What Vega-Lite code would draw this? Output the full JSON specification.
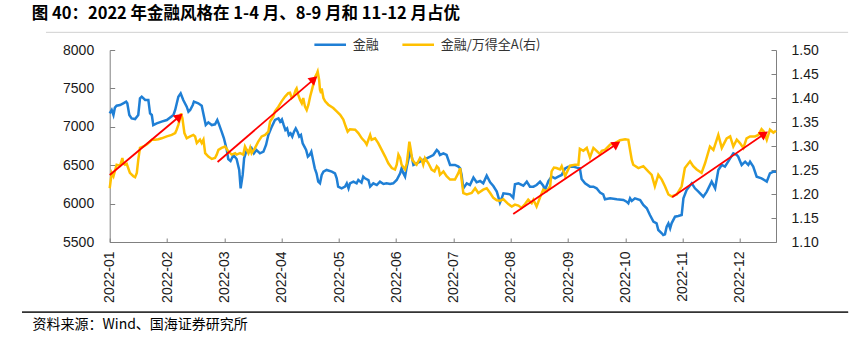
{
  "$schema": "https://vega.github.io/schema/vega-lite/v6.json",
  "autosize": "none",
  "width": 666.3,
  "height": 192,
  "padding": {"left": 109.7, "top": 50, "right": 87, "bottom": 95},
  "background": "white",
  "title": {"text": "图 40：2022 年金融风格在 1-4 月、8-9 月和 11-12 月占优", "anchor": "start", "frame": "group", "dx": -78, "offset": 5, "font": "Noto Sans CJK SC", "fontSize": 16.5, "fontWeight": "bold", "color": "#000000"},
  "config": {
    "view": {"stroke": null},
    "axis": {"grid": false, "domainColor": "#808080", "tickColor": "#808080", "labelFont": "Liberation Sans", "labelFontSize": 14, "labelColor": "#1a1a1a"},
    "axisX": {"labelAngle": -90, "tickSize": -4, "labelPadding": 13, "labelFlush": false, "labelOverlap": false,
      "titleX": -77.7, "titleY": 82, "titleAlign": "left", "titleBaseline": "middle",
      "titleFont": "Noto Sans CJK SC", "titleFontSize": 14, "titleFontWeight": "normal", "titleColor": "#000000"}
  },
  "datasets": {
    "fin": [
      {"day":0,"value":7175},{"day":0.7,"value":7219},{"day":1.3,"value":7154},{"day":1.8,"value":7249},{"day":2.4,"value":7275},{"day":3.6,"value":7284},{"day":4.7,"value":7306},{"day":5.7,"value":7327},{"day":6.1,"value":7306},{"day":6.8,"value":7154},{"day":7.6,"value":7110},{"day":8.8,"value":7101},{"day":9.9,"value":7154},{"day":10.5,"value":7370},{"day":11.1,"value":7392},{"day":12.3,"value":7349},{"day":13.4,"value":7349},{"day":14.0,"value":7175},{"day":14.6,"value":7154},{"day":15.1,"value":7023},{"day":16.3,"value":7045},{"day":18.0,"value":7067},{"day":19.8,"value":7088},{"day":22.1,"value":7154},{"day":22.7,"value":7219},{"day":23.8,"value":7392},{"day":24.6,"value":7436},{"day":25.5,"value":7349},{"day":26.7,"value":7262},{"day":27.3,"value":7197},{"day":27.9,"value":7219},{"day":28.8,"value":7284},{"day":29.2,"value":7327},{"day":30.7,"value":7306},{"day":31.9,"value":7275},{"day":32.7,"value":7132},{"day":33.3,"value":7023},{"day":34.2,"value":7058},{"day":35.4,"value":7023},{"day":36.5,"value":7032},{"day":37.3,"value":7088},{"day":37.9,"value":7032},{"day":38.8,"value":6937},{"day":39.6,"value":6850},{"day":40.6,"value":6698},{"day":41.1,"value":6581},{"day":41.9,"value":6555},{"day":42.9,"value":6633},{"day":44.0,"value":6581},{"day":44.9,"value":6438},{"day":45.4,"value":6199},{"day":46.1,"value":6373},{"day":46.6,"value":6590},{"day":47.5,"value":6698},{"day":48.4,"value":6676},{"day":49.2,"value":6720},{"day":50.0,"value":6655},{"day":50.9,"value":6698},{"day":52.1,"value":6655},{"day":53.3,"value":6676},{"day":54.2,"value":6763},{"day":55.0,"value":6893},{"day":56.2,"value":7002},
      {"day":57.3,"value":7089},{"day":58.5,"value":7110},{"day":59.1,"value":7067},{"day":59.7,"value":7097},{"day":60.3,"value":7024},{"day":60.9,"value":6958},{"day":61.5,"value":6980},{"day":62.1,"value":6893},{"day":62.7,"value":6915},{"day":63.3,"value":6872},{"day":63.9,"value":6937},{"day":64.5,"value":6980},{"day":65.1,"value":6937},{"day":65.7,"value":6872},{"day":66.3,"value":6893},{"day":66.9,"value":6785},{"day":67.5,"value":6741},{"day":68.1,"value":6698},{"day":68.7,"value":6611},{"day":69.3,"value":6633},{"day":69.9,"value":6676},{"day":70.5,"value":6568},{"day":71.1,"value":6459},{"day":71.7,"value":6394},{"day":72.3,"value":6286},{"day":72.9,"value":6264},{"day":73.5,"value":6373},{"day":74.1,"value":6416},{"day":75.2,"value":6438},{"day":77.0,"value":6416},{"day":78.1,"value":6394},{"day":78.7,"value":6329},{"day":79.2,"value":6221},{"day":80.4,"value":6199},{"day":81.6,"value":6221},{"day":82.2,"value":6264},{"day":82.8,"value":6199},{"day":83.3,"value":6264},{"day":84.5,"value":6286},{"day":85.6,"value":6264},{"day":86.2,"value":6307},{"day":87.3,"value":6273},{"day":87.9,"value":6351},{"day":88.5,"value":6329},{"day":89.7,"value":6307},{"day":90.3,"value":6221},{"day":91.4,"value":6264},{"day":92.6,"value":6242},{"day":93.7,"value":6286},{"day":94.9,"value":6255},{"day":96.0,"value":6264},{"day":97.2,"value":6255},{"day":98.3,"value":6264},{"day":99.5,"value":6307},{"day":100.7,"value":6394},{"day":101.2,"value":6459},{"day":101.8,"value":6394},{"day":102.4,"value":6351},{"day":103.0,"value":6481},{"day":103.5,"value":6568},{"day":104.1,"value":6676},{"day":104.7,"value":6611},{"day":105.3,"value":6503},{"day":106.4,"value":6524},{"day":107.6,"value":6546},{"day":108.7,"value":6568},{"day":109.9,"value":6590},{"day":111.1,"value":6611},{"day":112.2,"value":6633},{"day":113.4,"value":6698},{"day":114.0,"value":6676},{"day":114.5,"value":6633},{"day":115.7,"value":6655},{"day":116.8,"value":6633},{"day":118.0,"value":6503},
      {"day":119.7,"value":6503},{"day":120.9,"value":6481},{"day":121.5,"value":6459},{"day":122.0,"value":6373},{"day":122.6,"value":6199},{"day":123.8,"value":6264},{"day":124.9,"value":6242},{"day":126.1,"value":6338},{"day":127.2,"value":6277},{"day":128.4,"value":6294},{"day":129.5,"value":6264},{"day":130.7,"value":6364},{"day":131.9,"value":6277},{"day":133.0,"value":6229},{"day":134.2,"value":6156},{"day":135.3,"value":6012},{"day":135.9,"value":6069},{"day":136.5,"value":6134},{"day":138.8,"value":6121},{"day":139.9,"value":6077},{"day":140.5,"value":6251},{"day":141.7,"value":6264},{"day":143.4,"value":6233},{"day":144.6,"value":6286},{"day":145.7,"value":6221},{"day":146.9,"value":6221},{"day":148.0,"value":6242},{"day":149.2,"value":6286},{"day":150.3,"value":6233},{"day":150.9,"value":6177},{"day":152.1,"value":6294},{"day":153.2,"value":6351},{"day":154.4,"value":6329},{"day":155.5,"value":6351},{"day":156.7,"value":6373},{"day":157.9,"value":6459},{"day":159.0,"value":6481},{"day":160.7,"value":6481},{"day":161.9,"value":6468},{"day":163.0,"value":6459},{"day":163.6,"value":6320},{"day":164.8,"value":6264},{"day":166.5,"value":6221},{"day":167.7,"value":6221},{"day":168.8,"value":6199},{"day":170.0,"value":6143},{"day":171.1,"value":6121},{"day":171.7,"value":6056},{"day":173.5,"value":6069},{"day":175.8,"value":6056},{"day":178.1,"value":6047},{"day":179.2,"value":6025},{"day":179.8,"value":6004},{"day":180.4,"value":6069},{"day":181.0,"value":6034},{"day":182.1,"value":6069},{"day":183.9,"value":6047},{"day":185.0,"value":5982},{"day":186.2,"value":5939},{"day":187.3,"value":5852},{"day":188.5,"value":5765},{"day":189.6,"value":5743},{"day":190.2,"value":5656},{"day":191.4,"value":5613},{"day":191.9,"value":5590},{"day":192.5,"value":5600},{"day":193.1,"value":5700},{"day":193.7,"value":5743},{"day":194.3,"value":5678},{"day":194.8,"value":5743},{"day":196.0,"value":5830},{"day":197.1,"value":5839},{"day":198.3,"value":5852},{"day":198.9,"value":6069},{"day":200.0,"value":6177},{"day":201.8,"value":6264},{"day":202.9,"value":6199},{"day":204.1,"value":6156},{"day":205.8,"value":6090},{"day":207.0,"value":6156},{"day":208.7,"value":6286},{"day":209.9,"value":6199},{"day":211.0,"value":6438},{"day":212.2,"value":6503},{"day":213.3,"value":6481},{"day":215.1,"value":6590},{"day":216.2,"value":6655},{"day":217.4,"value":6633},{"day":217.9,"value":6611},{"day":219.1,"value":6503},{"day":220.3,"value":6546},{"day":221.4,"value":6503},{"day":222.0,"value":6546},{"day":223.1,"value":6481},{"day":224.3,"value":6351},{"day":226.0,"value":6329},{"day":227.8,"value":6286},{"day":228.9,"value":6394},{"day":230.1,"value":6416},{"day":231.0,"value":6416}
    ],
    "ratio": [
      {"day":0,"value":1.212},{"day":0.7,"value":1.244},{"day":1.3,"value":1.237},{"day":2.4,"value":1.261},{"day":3.6,"value":1.259},{"day":4.4,"value":1.275},{"day":4.7,"value":1.264},{"day":5.3,"value":1.261},{"day":5.9,"value":1.263},{"day":7.0,"value":1.244},{"day":8.2,"value":1.237},{"day":8.8,"value":1.235},{"day":9.4,"value":1.244},{"day":9.9,"value":1.271},{"day":10.5,"value":1.296},{"day":11.7,"value":1.299},{"day":12.8,"value":1.303},{"day":14.0,"value":1.309},{"day":14.6,"value":1.313},{"day":15.7,"value":1.313},{"day":16.9,"value":1.314},{"day":18.0,"value":1.316},{"day":19.8,"value":1.320},{"day":21.5,"value":1.323},{"day":22.7,"value":1.327},{"day":23.2,"value":1.334},{"day":23.8,"value":1.344},{"day":24.4,"value":1.358},{"day":24.7,"value":1.368},{"day":25.2,"value":1.358},{"day":25.9,"value":1.327},{"day":26.7,"value":1.316},{"day":27.9,"value":1.320},{"day":29.0,"value":1.323},{"day":29.6,"value":1.320},{"day":30.2,"value":1.306},{"day":31.3,"value":1.313},{"day":31.9,"value":1.306},{"day":32.5,"value":1.313},{"day":33.1,"value":1.285},{"day":34.2,"value":1.278},{"day":35.4,"value":1.273},{"day":36.5,"value":1.275},{"day":37.1,"value":1.282},{"day":37.7,"value":1.292},{"day":38.8,"value":1.296},{"day":40.0,"value":1.299},{"day":41.1,"value":1.289},{"day":42.3,"value":1.282},{"day":43.5,"value":1.285},{"day":44.0,"value":1.282},{"day":45.2,"value":1.285},{"day":46.3,"value":1.282},{"day":46.9,"value":1.299},{"day":48.1,"value":1.285},{"day":48.7,"value":1.296},{"day":49.2,"value":1.285},{"day":50.4,"value":1.296},{"day":51.5,"value":1.309},{"day":52.7,"value":1.320},{"day":53.9,"value":1.323},{"day":55.0,"value":1.330},{"day":55.6,"value":1.351},{"day":56.7,"value":1.361},
      {"day":57.3,"value":1.372},{"day":58.5,"value":1.382},{"day":59.6,"value":1.393},{"day":60.8,"value":1.403},{"day":61.9,"value":1.410},{"day":62.5,"value":1.411},{"day":63.1,"value":1.400},{"day":63.7,"value":1.403},{"day":64.5,"value":1.417},{"day":64.8,"value":1.420},{"day":65.4,"value":1.406},{"day":66.0,"value":1.396},{"day":66.6,"value":1.389},{"day":67.1,"value":1.400},{"day":67.7,"value":1.382},{"day":68.3,"value":1.375},{"day":68.9,"value":1.386},{"day":69.5,"value":1.403},{"day":70.1,"value":1.417},{"day":70.7,"value":1.431},{"day":71.3,"value":1.445},{"day":71.9,"value":1.452},{"day":72.1,"value":1.455},{"day":72.6,"value":1.438},{"day":72.9,"value":1.417},{"day":73.3,"value":1.410},{"day":73.5,"value":1.420},{"day":74.1,"value":1.400},{"day":74.7,"value":1.393},{"day":75.8,"value":1.386},{"day":77.5,"value":1.379},{"day":78.7,"value":1.372},{"day":79.9,"value":1.365},{"day":81.0,"value":1.355},{"day":81.8,"value":1.341},{"day":82.5,"value":1.330},{"day":83.3,"value":1.335},{"day":85.1,"value":1.334},{"day":86.2,"value":1.327},{"day":87.4,"value":1.316},{"day":88.5,"value":1.309},{"day":89.1,"value":1.303},{"day":89.7,"value":1.313},{"day":90.3,"value":1.323},{"day":90.8,"value":1.313},{"day":92.0,"value":1.316},{"day":93.1,"value":1.306},{"day":94.3,"value":1.292},{"day":95.5,"value":1.278},{"day":96.6,"value":1.264},{"day":97.8,"value":1.254},{"day":98.9,"value":1.251},{"day":99.5,"value":1.261},{"day":100.1,"value":1.282},{"day":100.7,"value":1.275},{"day":101.2,"value":1.261},{"day":102.4,"value":1.251},{"day":103.0,"value":1.264},{"day":103.5,"value":1.289},{"day":103.9,"value":1.309},{"day":104.4,"value":1.292},{"day":104.9,"value":1.271},{"day":105.9,"value":1.264},{"day":106.4,"value":1.261},{"day":107.6,"value":1.275},{"day":108.2,"value":1.271},{"day":108.7,"value":1.261},{"day":109.3,"value":1.275},{"day":110.5,"value":1.264},{"day":111.6,"value":1.251},{"day":112.6,"value":1.247},{"day":113.4,"value":1.258},{"day":114.0,"value":1.254},{"day":114.5,"value":1.240},{"day":115.7,"value":1.247},{"day":116.8,"value":1.237},{"day":118.0,"value":1.230},
      {"day":119.7,"value":1.230},{"day":120.9,"value":1.244},{"day":121.5,"value":1.254},{"day":122.6,"value":1.202},{"day":123.8,"value":1.199},{"day":125.5,"value":1.202},{"day":126.7,"value":1.212},{"day":127.8,"value":1.202},{"day":129.5,"value":1.209},{"day":130.7,"value":1.212},{"day":131.9,"value":1.202},{"day":133.0,"value":1.192},{"day":134.2,"value":1.187},{"day":135.3,"value":1.186},{"day":136.5,"value":1.189},{"day":138.2,"value":1.179},{"day":139.4,"value":1.174},{"day":140.5,"value":1.178},{"day":141.7,"value":1.176},{"day":142.8,"value":1.171},{"day":144.0,"value":1.179},{"day":145.1,"value":1.188},{"day":146.3,"value":1.181},{"day":146.9,"value":1.188},{"day":148.0,"value":1.174},{"day":149.2,"value":1.193},{"day":150.3,"value":1.209},{"day":151.5,"value":1.206},{"day":152.7,"value":1.216},{"day":153.2,"value":1.247},{"day":154.0,"value":1.255},{"day":154.9,"value":1.254},{"day":156.1,"value":1.251},{"day":156.7,"value":1.258},{"day":157.9,"value":1.237},{"day":158.4,"value":1.244},{"day":159.6,"value":1.259},{"day":161.3,"value":1.261},{"day":162.5,"value":1.261},{"day":163.0,"value":1.294},{"day":164.2,"value":1.290},{"day":165.4,"value":1.296},{"day":166.5,"value":1.276},{"day":167.7,"value":1.296},{"day":168.8,"value":1.290},{"day":170.0,"value":1.283},{"day":170.6,"value":1.290},{"day":171.7,"value":1.292},{"day":173.5,"value":1.303},{"day":175.2,"value":1.306},{"day":176.9,"value":1.312},{"day":178.7,"value":1.314},{"day":179.8,"value":1.313},{"day":181.0,"value":1.271},{"day":181.5,"value":1.261},{"day":183.3,"value":1.254},{"day":185.0,"value":1.258},{"day":186.7,"value":1.247},{"day":187.9,"value":1.240},{"day":189.0,"value":1.216},{"day":190.2,"value":1.240},{"day":191.4,"value":1.230},{"day":192.5,"value":1.216},{"day":193.7,"value":1.199},{"day":194.8,"value":1.195},{"day":196.6,"value":1.199},{"day":198.3,"value":1.216},{"day":199.4,"value":1.254},{"day":201.2,"value":1.268},{"day":202.3,"value":1.258},{"day":203.5,"value":1.251},{"day":205.2,"value":1.244},{"day":206.4,"value":1.264},{"day":208.1,"value":1.299},{"day":209.3,"value":1.292},{"day":211.0,"value":1.323},{"day":212.2,"value":1.296},{"day":213.9,"value":1.316},{"day":215.1,"value":1.320},{"day":216.2,"value":1.299},{"day":217.4,"value":1.313},{"day":218.5,"value":1.306},{"day":219.7,"value":1.296},{"day":220.8,"value":1.316},{"day":222.0,"value":1.320},{"day":223.7,"value":1.320},{"day":224.9,"value":1.323},{"day":226.0,"value":1.335},{"day":226.8,"value":1.330},{"day":227.8,"value":1.313},{"day":228.9,"value":1.334},{"day":230.1,"value":1.328},{"day":231.0,"value":1.332}
    ],
    "arrows": [
      {"x1":0,"y1":6372,"x2":25.2,"y2":7167},
      {"x1":37.4,"y1":6542,"x2":71.9,"y2":7655},
      {"x1":139.9,"y1":5865,"x2":176.9,"y2":6806},
      {"x1":195.0,"y1":6082,"x2":228.1,"y2":6936}
    ]
  },
  "layer": [
    {
      "data": {"name": "fin"},
      "mark": {"type": "line", "strokeWidth": 2.5},
      "encoding": {
        "x": {"field": "day", "type": "quantitative", "scale": {"domain": [0, 231], "nice": false, "zero": false},
          "axis": {"values": [0, 19.9, 39.7, 59.6, 79.5, 99.3, 119.2, 139.1, 158.9, 178.8, 198.7, 218.5],
            "labelExpr": "'2022-' + (round(datum.value / 19.865) + 1 < 10 ? '0' : '') + (round(datum.value / 19.865) + 1)",
            "title": "资料来源：Wind、国海证券研究所"}},
        "y": {"field": "value", "type": "quantitative", "scale": {"domain": [5500, 8000], "nice": false, "zero": false},
          "axis": {"orient": "left", "values": [5500, 6000, 6500, 7000, 7500, 8000], "tickSize": -5, "labelPadding": 21, "title": null, "format": "d"}},
        "color": {"datum": "金融", "type": "nominal",
          "scale": {"domain": ["金融", "金融/万得全A(右)"], "range": ["#1F7FD5", "#FFC000"]},
          "legend": {"orient": "none", "legendX": 203, "legendY": -23, "direction": "horizontal", "title": null,
            "symbolType": "stroke", "symbolStrokeWidth": 2.5, "symbolSize": 1000, "labelFont": "Noto Sans CJK SC",
            "labelFontSize": 13, "labelColor": "#333333", "columnPadding": 17, "labelOffset": 5}}
      }
    },
    {
      "data": {"name": "ratio"},
      "mark": {"type": "line", "strokeWidth": 2.5},
      "encoding": {
        "x": {"field": "day", "type": "quantitative", "scale": {"domain": [0, 231], "nice": false, "zero": false},
          "axis": {"values": [0, 19.9, 39.7, 59.6, 79.5, 99.3, 119.2, 139.1, 158.9, 178.8, 198.7, 218.5],
            "labelExpr": "'2022-' + (round(datum.value / 19.865) + 1 < 10 ? '0' : '') + (round(datum.value / 19.865) + 1)",
            "title": "资料来源：Wind、国海证券研究所"}},
        "y": {"field": "value", "type": "quantitative", "scale": {"domain": [1.1, 1.5], "nice": false, "zero": false},
          "axis": {"orient": "right", "values": [1.1, 1.15, 1.2, 1.25, 1.3, 1.35, 1.4, 1.45, 1.5], "format": ".2f", "tickSize": -5, "labelPadding": 20, "title": null}},
        "color": {"datum": "金融/万得全A(右)", "type": "nominal"}
      }
    },
    {
      "data": {"name": "arrows"},
      "transform": [
        {"calculate": "(datum.x2 - datum.x1) * 666.3 / 231", "as": "dxp"},
        {"calculate": "(datum.y2 - datum.y1) * 192 / 2500", "as": "dyp"},
        {"calculate": "sqrt(datum.dxp * datum.dxp + datum.dyp * datum.dyp)", "as": "len"},
        {"calculate": "datum.x2 - (datum.x2 - datum.x1) * 4 / datum.len", "as": "hx"},
        {"calculate": "datum.y2 - (datum.y2 - datum.y1) * 4 / datum.len", "as": "hy"},
        {"calculate": "-atan2(datum.dyp, datum.dxp) * 180 / PI", "as": "ang"}
      ],
      "layer": [
        {
          "mark": {"type": "rule", "color": "#FF0000", "strokeWidth": 1.8},
          "encoding": {
            "x": {"field": "x1", "type": "quantitative", "scale": {"domain": [0, 231], "nice": false, "zero": false},
              "axis": {"values": [0, 19.9, 39.7, 59.6, 79.5, 99.3, 119.2, 139.1, 158.9, 178.8, 198.7, 218.5],
                "labelExpr": "'2022-' + (round(datum.value / 19.865) + 1 < 10 ? '0' : '') + (round(datum.value / 19.865) + 1)",
                "title": "资料来源：Wind、国海证券研究所"}},
            "x2": {"field": "hx"},
            "y": {"field": "y1", "type": "quantitative", "scale": {"domain": [5500, 8000], "nice": false, "zero": false}, "axis": null},
            "y2": {"field": "hy"}
          }
        },
        {
          "mark": {"type": "point", "shape": "triangle-right", "filled": true, "color": "#FF0000", "opacity": 1, "size": 100},
          "encoding": {
            "x": {"field": "hx", "type": "quantitative", "scale": {"domain": [0, 231], "nice": false, "zero": false},
              "axis": {"values": [0, 19.9, 39.7, 59.6, 79.5, 99.3, 119.2, 139.1, 158.9, 178.8, 198.7, 218.5],
                "labelExpr": "'2022-' + (round(datum.value / 19.865) + 1 < 10 ? '0' : '') + (round(datum.value / 19.865) + 1)",
                "title": "资料来源：Wind、国海证券研究所"}},
            "y": {"field": "hy", "type": "quantitative", "scale": {"domain": [5500, 8000], "nice": false, "zero": false}, "axis": null},
            "angle": {"field": "ang", "type": "quantitative", "scale": null}
          }
        }
      ]
    },
    {
      "data": {"values": [{"rule": "title"}, {"rule": "source"}]},
      "mark": {"type": "rule", "color": "#333333", "strokeWidth": 1.3},
      "encoding": {
        "x": {"datum": -30.4, "type": "quantitative", "scale": {"domain": [0, 231], "nice": false, "zero": false},
          "axis": {"values": [0, 19.9, 39.7, 59.6, 79.5, 99.3, 119.2, 139.1, 158.9, 178.8, 198.7, 218.5],
            "labelExpr": "'2022-' + (round(datum.value / 19.865) + 1 < 10 ? '0' : '') + (round(datum.value / 19.865) + 1)",
            "title": "资料来源：Wind、国海证券研究所"}},
        "x2": {"datum": 256},
        "y": {"condition": {"test": "datum.rule === 'title'", "datum": 8277}, "datum": 4585, "type": "quantitative", "scale": {"domain": [5500, 8000], "nice": false, "zero": false}, "axis": null}
      }
    },
    {
      "data": {"values": [{"rule": "frame"}]},
      "mark": {"type": "rule", "color": "#d0d0d0", "strokeWidth": 1},
      "encoding": {
        "x": {"datum": -22.1, "type": "quantitative", "scale": {"domain": [0, 231], "nice": false, "zero": false},
          "axis": {"values": [0, 19.9, 39.7, 59.6, 79.5, 99.3, 119.2, 139.1, 158.9, 178.8, 198.7, 218.5],
            "labelExpr": "'2022-' + (round(datum.value / 19.865) + 1 < 10 ? '0' : '') + (round(datum.value / 19.865) + 1)",
            "title": "资料来源：Wind、国海证券研究所"}},
        "x2": {"datum": 256},
        "y": {"datum": 8230, "type": "quantitative", "scale": {"domain": [5500, 8000], "nice": false, "zero": false}, "axis": null}
      }
    }
  ],
  "resolve": {"scale": {"y": "independent"}}
}
